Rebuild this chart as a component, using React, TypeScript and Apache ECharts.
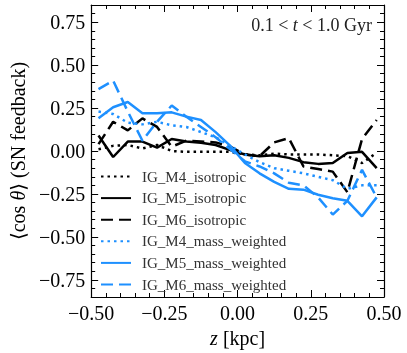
import React, { useEffect, useRef } from "react";
import * as echarts from "echarts";

const zValues = [-0.475, -0.425, -0.375, -0.325, -0.275, -0.225, -0.175, -0.125, -0.075, -0.025,
  0.025, 0.075, 0.125, 0.175, 0.225, 0.275, 0.325, 0.375, 0.425, 0.475];

const m4Iso = [0.01, 0.03, 0.035, 0.015, 0.035, 0.0, -0.005, -0.005, -0.005, -0.005,
  -0.02, -0.025, -0.015, -0.02, -0.02, -0.02, -0.025, -0.03, -0.07, -0.01];
const m5Iso = [0.09, -0.035, 0.055, 0.055, 0.02, 0.07, 0.055, 0.048, 0.035, 0.005,
  -0.02, -0.03, -0.025, -0.04, -0.065, -0.075, -0.07, -0.012, -0.005, -0.1];
const m6Iso = [0.04, 0.17, 0.12, 0.19, 0.14, 0.025, 0.06, 0.055, 0.05, 0.025,
  -0.02, -0.03, 0.05, 0.075, -0.09, -0.105, -0.12, -0.24, 0.07, 0.18];
const m4Mass = [0.23, 0.215, 0.165, 0.155, 0.17, 0.15, 0.14, 0.11, 0.08, 0.03,
  -0.02, -0.065, -0.1, -0.115, -0.13, -0.15, -0.17, -0.22, -0.2, -0.2];
const m5Mass = [0.19, 0.255, 0.285, 0.22, 0.22, 0.225, 0.2, 0.18, 0.11, 0.03,
  -0.07, -0.13, -0.18, -0.22, -0.225, -0.255, -0.275, -0.29, -0.38, -0.27];
const m6Mass = [0.36, 0.41, 0.23, 0.06, 0.17, 0.265, 0.2, 0.14, 0.08, 0.01,
  -0.06, -0.09, -0.13, -0.185, -0.2, -0.27, -0.37, -0.29, -0.11, -0.27];

const seriesNames = ["IG_M4_isotropic", "IG_M5_isotropic", "IG_M6_isotropic",
  "IG_M4_mass_weighted", "IG_M5_mass_weighted", "IG_M6_mass_weighted"];
const yMajorTicks = [-0.75, -0.5, -0.25, 0, 0.25, 0.5, 0.75];

const SERIF = "'Liberation Serif', 'DejaVu Serif', serif";
const BLUE = "#1E90FF";

function fmt(v: number) {
  return v.toFixed(2).replace("-", "\u2212");
}

export default function App() {
  const ref = useRef<HTMLDivElement>(null);
  useEffect(() => {
    if (!ref.current) return;
    const chart = echarts.init(ref.current, null, { renderer: "svg" });
    const allData = [m4Iso, m5Iso, m6Iso, m4Mass, m5Mass, m6Mass];
    const colors = ["#000", "#000", "#000", BLUE, BLUE, BLUE];
    const dashes: any[] = [[2.5, 4], "solid", [12, 6], [2.5, 4], "solid", [12, 6]];
    const series = allData.map((arr, i) => ({
      name: seriesNames[i],
      type: "line",
      xAxisIndex: 0,
      yAxisIndex: 0,
      symbol: "none",
      data: arr.map((v, j) => [zValues[j], v]),
      lineStyle: { color: colors[i], width: 2.5, type: dashes[i] },
      itemStyle: { color: colors[i] },
      z: i >= 3 ? 3 : 2,
    }));
    const axisLineStyle = { onZero: false, lineStyle: { color: "#000", width: 1.2 } };
    const grid = { left: 87, top: 5, width: 297, height: 292 };
    chart.setOption({
      animation: false,
      grid,
      legend: {
        orient: "vertical",
        left: 100,
        top: 169,
        padding: 0,
        itemWidth: 30,
        itemHeight: 14,
        itemGap: 6.6,
        data: seriesNames,
        itemStyle: { opacity: 0 },
        textStyle: { fontFamily: SERIF, fontSize: 15, color: "#333", padding: [0, 0, 0, 6] },
      },
      xAxis: [
        {
          type: "value", position: "bottom", min: -0.5, max: 0.5, interval: 0.25,
          axisLine: axisLineStyle,
          axisTick: { inside: true, length: 7, lineStyle: { color: "#000" } },
          minorTick: { show: true, splitNumber: 5, length: 4, lineStyle: { color: "#000" } },
          splitLine: { show: false },
          axisLabel: { formatter: fmt, fontFamily: SERIF, fontSize: 20, color: "#000", margin: 6 },
          name: "{i|z} [kpc]",
          nameLocation: "middle",
          nameGap: 31,
          nameTextStyle: { fontFamily: SERIF, fontSize: 20, color: "#000", rich: { i: { fontFamily: SERIF, fontSize: 20, fontStyle: "italic", color: "#000" } } },
        },
        {
          type: "value", position: "top", min: -0.5, max: 0.5, interval: 0.25,
          axisLine: axisLineStyle,
          axisTick: { inside: true, length: 7, lineStyle: { color: "#000" } },
          minorTick: { show: true, splitNumber: 5, length: 4, lineStyle: { color: "#000" } },
          splitLine: { show: false },
          axisLabel: { show: false },
        },
      ],
      yAxis: [
        {
          type: "value", position: "left", min: -0.85, max: 0.85, interval: 0.05,
          axisLine: axisLineStyle,
          axisTick: { inside: true, length: 4, lineStyle: { color: "#000" } },
          splitLine: { show: false },
          axisLabel: { show: false },
        },
        {
          type: "value", position: "left", min: -0.85, max: 0.85,
          axisLine: { show: false, onZero: false },
          axisTick: { show: true, inside: true, length: 7, customValues: yMajorTicks, lineStyle: { color: "#000" } },
          splitLine: { show: false },
          axisLabel: { customValues: yMajorTicks, formatter: fmt, fontFamily: SERIF, fontSize: 20, color: "#000", margin: 6 },
          name: "\u27E8cos {i|\u03B8}\u27E9 (SN feedback)",
          nameLocation: "middle",
          nameGap: 58,
          nameTextStyle: { fontFamily: SERIF, fontSize: 20, color: "#000", rich: { i: { fontFamily: SERIF, fontSize: 20, fontStyle: "italic", color: "#000" } } },
        },
        {
          type: "value", position: "right", min: -0.85, max: 0.85, interval: 0.05,
          axisLine: axisLineStyle,
          axisTick: { inside: true, length: 4, lineStyle: { color: "#000" } },
          splitLine: { show: false },
          axisLabel: { show: false },
        },
        {
          type: "value", position: "right", min: -0.85, max: 0.85,
          axisLine: { show: false, onZero: false },
          axisTick: { show: true, inside: true, length: 7, customValues: yMajorTicks, lineStyle: { color: "#000" } },
          splitLine: { show: false },
          axisLabel: { show: false, customValues: yMajorTicks },
        },
      ],
      graphic: [
        {
          type: "text",
          right: 35,
          top: 16,
          style: {
            text: "0.1 < {i|t} < 1.0 Gyr",
            fontFamily: SERIF,
            fontSize: 18,
            fill: "#222",
            rich: { i: { fontFamily: SERIF, fontSize: 18, fontStyle: "italic", fill: "#222" } },
          },
        },
      ],
      series,
    });
    return () => chart.dispose();
  }, []);
  return <div ref={ref} style={{ position: "fixed", left: 0, top: 0, width: 407, height: 353 }} />;
}
